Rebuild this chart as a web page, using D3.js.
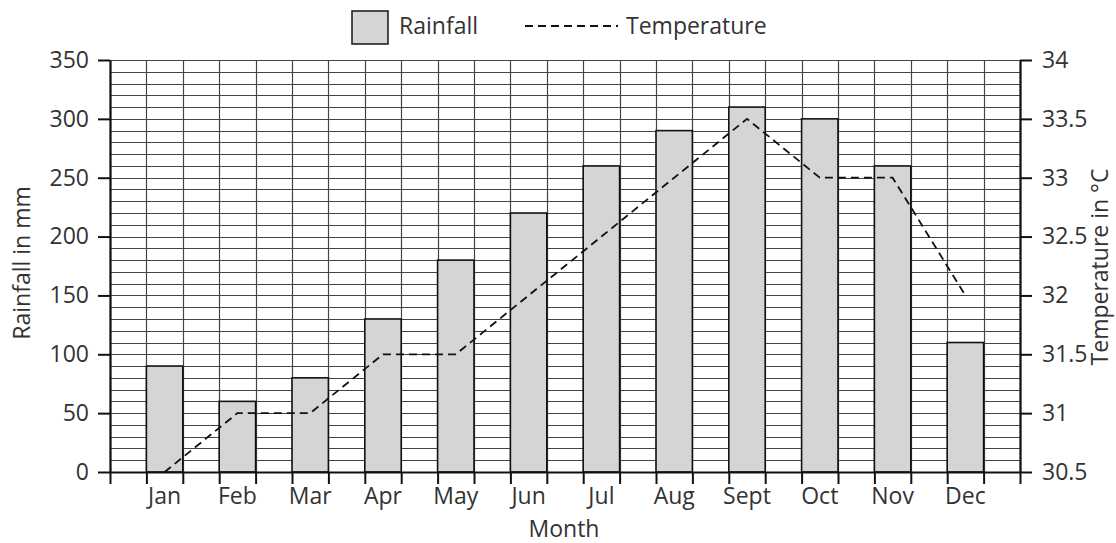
<!DOCTYPE html>
<html>
<head>
<meta charset="utf-8">
<script src="https://cdn.jsdelivr.net/npm/d3@7"></script>
<style>
  body { margin: 0; background: #fff; }
  text { font-family: "Open Sans", "Lato", sans-serif; fill: #333; }
</style>
</head>
<body>
<script>
  //data
  var months = ["Jan", "Feb", "Mar", "Apr", "May", "Jun", "Jul", "Aug", "Sept", "Oct", "Nov", "Dec"];
  var rainfall = [90, 60, 80, 130, 180, 220, 260, 290, 310, 300, 260, 110];
  var temperature = [30.5, 31, 31, 31.5, 31.5, 32, 32.5, 33, 33.5, 33, 33, 32];
  var rainTicks = [0, 50, 100, 150, 200, 250, 300, 350];
  var tempTicks = [30.5, 31, 31.5, 32, 32.5, 33, 33.5, 34];

  var w = 1116, h = 543;
  var plotLeft = 110, plotRight = 1020, plotTop = 60, plotBottom = 472; //plot area edges
  var fontSize = "23px";

  var svg = d3.select("body").append("svg")
      .attr("width", w)
      .attr("height", h);

  //SCALES
  var x = d3.scaleLinear().domain([-0.75, 11.75]).range([plotLeft, plotRight]); //month i centred on i
  var y = d3.scaleLinear().domain([0, 350]).range([plotBottom, plotTop]);
  var yT = d3.scaleLinear().domain([30.5, 34]).range([plotBottom, plotTop]);

  //grid lines
  var vLines = d3.range(0, 26).map(function(k) { return -0.75 + k * 0.5; });
  var hLines = d3.range(0, 351, 10);

  svg.append("g").selectAll("line")
      .data(hLines)
      .enter().append("line")
      .attr("x1", plotLeft).attr("x2", plotRight)
      .attr("y1", function(d) { return Math.round(y(d)) + 0.5; })
      .attr("y2", function(d) { return Math.round(y(d)) + 0.5; })
      .attr("stroke", "#444").attr("stroke-width", 1.2);

  svg.append("g").selectAll("line")
      .data(vLines)
      .enter().append("line")
      .attr("x1", function(d) { return Math.round(x(d)) + 0.5; })
      .attr("x2", function(d) { return Math.round(x(d)) + 0.5; })
      .attr("y1", plotTop).attr("y2", plotBottom)
      .attr("stroke", "#444").attr("stroke-width", 1.2);

  //BARS
  svg.append("g").selectAll("rect")
      .data(rainfall)
      .enter().append("rect")
      .attr("x", function(d, i) { return x(i - 0.25); })
      .attr("y", function(d) { return y(d); })
      .attr("width", x(0.25) - x(-0.25))
      .attr("height", function(d) { return plotBottom - y(d); })
      .attr("fill", "#d4d5d7")
      .attr("stroke", "#111")
      .attr("stroke-width", 1.6);

  //temperature line
  var line = d3.line()
      .x(function(d, i) { return x(i); })
      .y(function(d) { return yT(d); });

  svg.append("path")
      .datum(temperature)
      .attr("d", line)
      .attr("fill", "none")
      .attr("stroke", "#111")
      .attr("stroke-width", 1.8)
      .attr("stroke-dasharray", "8,5");

  //AXES
  var leftAxis = d3.axisLeft(y).tickValues(rainTicks).tickSize(12).tickPadding(9);
  var rightAxis = d3.axisRight(yT).tickValues(tempTicks).tickSize(12).tickPadding(10)
      .tickFormat(function(d) { return d3.format("")(d); });
  var bottomAxis = d3.axisBottom(x).tickValues(vLines).tickSize(12).tickFormat("");

  function styleAxis(g) {
    g.select(".domain").attr("stroke", "#111").attr("stroke-width", 2.2);
    g.selectAll(".tick line").attr("stroke", "#111").attr("stroke-width", 2);
    g.selectAll(".tick text").style("font-size", fontSize).attr("fill", "#333")
        .style("font-family", "'Open Sans', Lato, sans-serif");
  }

  svg.append("g").attr("transform", "translate(" + plotLeft + ",0)")
      .call(leftAxis.tickSizeOuter(0)).call(styleAxis);
  svg.append("g").attr("transform", "translate(" + plotRight + ",0)")
      .call(rightAxis.tickSizeOuter(0)).call(styleAxis);
  svg.append("g").attr("transform", "translate(0," + plotBottom + ")")
      .call(bottomAxis.tickSizeOuter(0)).call(styleAxis);

  //month labels
  svg.append("g").selectAll("text")
      .data(months)
      .enter().append("text")
      .attr("x", function(d, i) { return x(i); })
      .attr("y", 504)
      .attr("text-anchor", "middle")
      .style("font-size", fontSize)
      .text(function(d) { return d; });

  //axis titles
  svg.append("text")
      .attr("x", 564).attr("y", 537)
      .attr("text-anchor", "middle")
      .style("font-size", fontSize)
      .text("Month");

  svg.append("text")
      .attr("transform", "translate(30,263) rotate(-90)")
      .attr("text-anchor", "middle")
      .style("font-size", fontSize)
      .text("Rainfall in mm");

  svg.append("text")
      .attr("transform", "translate(1108,267) rotate(-90)")
      .attr("text-anchor", "middle")
      .style("font-size", fontSize)
      .text("Temperature in °C");

  //LEGEND
  svg.append("rect")
      .attr("x", 352).attr("y", 11)
      .attr("width", 36).attr("height", 33)
      .attr("fill", "#d4d5d7").attr("stroke", "#222").attr("stroke-width", 1.6);

  svg.append("text")
      .attr("x", 399).attr("y", 34)
      .style("font-size", fontSize)
      .text("Rainfall");

  svg.append("line")
      .attr("x1", 525).attr("x2", 618)
      .attr("y1", 26).attr("y2", 26)
      .attr("stroke", "#111").attr("stroke-width", 1.8)
      .attr("stroke-dasharray", "8,5");

  svg.append("text")
      .attr("x", 626).attr("y", 34)
      .style("font-size", fontSize)
      .text("Temperature");
</script>
</body>
</html>
